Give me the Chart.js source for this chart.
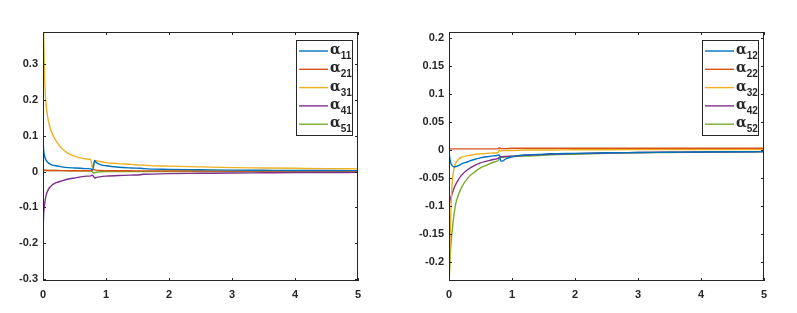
<!DOCTYPE html>
<html>
<head>
<meta charset="utf-8">
<script src="https://cdn.jsdelivr.net/npm/chart.js@4.4.1/dist/chart.umd.min.js"></script>
<style>
html,body{margin:0;padding:0;background:#fff;}
#wrap{position:relative;width:797px;height:313px;}
canvas{position:absolute;top:0;}
</style>
</head>
<body>
<div id="wrap">
<canvas id="c1" width="398" height="313" style="left:0px"></canvas>
<canvas id="c2" width="399" height="313" style="left:398px"></canvas>
</div>
<script>
// ---------- data ----------
const xValues = [0,0.005,0.01,0.02,0.03,0.05,0.075,0.1,0.15,0.2,0.3,0.4,0.5,0.6,0.7,0.76,0.78,0.8,0.82,0.84,0.9,1.0,1.2,1.4,1.55,1.58,1.6,2,2.5,3,3.5,4,4.5,5];

const a11 = [0.097,0.075,0.06,0.047,0.04,0.031,0.026,0.022,0.018,0.016,0.013,0.011,0.01,0.009,0.008,0.0075,0.005,0.012,0.031,0.026,0.02,0.016,0.012,0.01,0.009,0.0085,0.008,0.006,0.005,0.004,0.0035,0.003,0.0028,0.0025];
const a21 = [0.004,0.004,0.004,0.0035,0.0035,0.003,0.003,0.003,0.003,0.0028,0.0025,0.0023,0.0022,0.002,0.002,0.002,0.003,0.006,0.005,0.004,0.003,0.0025,0.002,0.002,0.0018,0.0018,0.0017,0.0015,0.0013,0.0012,0.0011,0.001,0.001,0.001];
const a31 = [0.55,0.45,0.39,0.3,0.24,0.185,0.152,0.13,0.104,0.088,0.064,0.051,0.043,0.038,0.035,0.033,0.012,0.02,0.031,0.03,0.028,0.025,0.022,0.02,0.018,0.019,0.018,0.015,0.013,0.011,0.01,0.009,0.008,0.0075];
const a41 = [-0.2,-0.15,-0.12,-0.1,-0.085,-0.066,-0.054,-0.046,-0.037,-0.032,-0.026,-0.021,-0.018,-0.015,-0.013,-0.012,-0.01,-0.013,-0.018,-0.017,-0.015,-0.013,-0.011,-0.01,-0.009,-0.0075,-0.0075,-0.006,-0.005,-0.004,-0.0035,-0.003,-0.0028,-0.0025];
const a51 = [0.004,0.004,0.004,0.0035,0.0035,0.003,0.003,0.003,0.003,0.0028,0.0025,0.0023,0.002,0.002,0.002,0.002,0.0,-0.004,-0.003,-0.002,-0.001,0,0,0,0,0,0,0,0,0,0,0,0,0];

const a12 = [0,-0.007,-0.012,-0.019,-0.024,-0.028,-0.03,-0.03,-0.028,-0.025,-0.021,-0.017,-0.014,-0.012,-0.0105,-0.0098,-0.009,-0.009,-0.019,-0.02,-0.016,-0.012,-0.009,-0.008,-0.0072,-0.0068,-0.0067,-0.006,-0.005,-0.0045,-0.004,-0.0035,-0.0032,-0.003];
const a22 = [0.002,0.002,0.002,0.002,0.002,0.002,0.002,0.002,0.002,0.002,0.002,0.002,0.002,0.002,0.002,0.002,0.0025,0.004,0.003,0.0025,0.0025,0.003,0.003,0.003,0.003,0.003,0.003,0.003,0.003,0.003,0.003,0.003,0.003,0.003];
const a32 = [-0.25,-0.22,-0.2,-0.15,-0.11,-0.06,-0.035,-0.025,-0.017,-0.013,-0.01,-0.008,-0.007,-0.006,-0.0055,-0.005,-0.004,0.0,-0.002,-0.001,-0.001,-0.001,0,0,0,0,0,0.0005,0.0005,0.0008,0.001,0.001,0.001,0.001];
const a42 = [-0.1,-0.097,-0.094,-0.089,-0.084,-0.078,-0.07,-0.063,-0.053,-0.045,-0.035,-0.028,-0.023,-0.02,-0.017,-0.016,-0.015,-0.013,-0.012,-0.012,-0.0115,-0.011,-0.0095,-0.0085,-0.008,-0.0078,-0.0077,-0.0065,-0.0055,-0.0045,-0.004,-0.0035,-0.0032,-0.003];
const a52 = [-0.25,-0.23,-0.215,-0.19,-0.17,-0.145,-0.12,-0.1,-0.08,-0.067,-0.05,-0.04,-0.032,-0.027,-0.022,-0.02,-0.019,-0.015,-0.013,-0.013,-0.0125,-0.012,-0.011,-0.01,-0.0092,-0.009,-0.0088,-0.0075,-0.006,-0.005,-0.0045,-0.004,-0.0035,-0.003];

const labelsLeft = ['α11','α21','α31','α41','α51'];
const labelsRight = ['α12','α22','α32','α42','α52'];

const xTicks = [0,1,2,3,4,5];
const xTickLabels = ['0','1','2','3','4','5'];
const yTicksLeft = [-0.3,-0.2,-0.1,0,0.1,0.2,0.3];
const yTickLabelsLeft = ['-0.3','-0.2','-0.1','0','0.1','0.2','0.3'];
const yTicksRight = [-0.2,-0.15,-0.1,-0.05,0,0.05,0.1,0.15,0.2];
const yTickLabelsRight = ['-0.2','-0.15','-0.1','-0.05','0','0.05','0.1','0.15','0.2'];

// ---------- styling ----------
const colors = ['#0072BD','#D95319','#EDB120','#7E2F8E','#77AC30'];
const axisColor = '#262626';
const tickFont = {family:'"Liberation Sans", Arial, sans-serif', size:11, weight:'bold'};

function pts(ys){ return xValues.map((x,i)=>({x:x,y:ys[i]})); }

const boxPlugin = {
  id:'boxTicks',
  afterDraw(chart){
    const {ctx, chartArea:a, scales} = chart;
    ctx.save();
    ctx.strokeStyle = axisColor;
    ctx.lineWidth = 1;
    ctx.strokeRect(a.left+0.5, a.top+0.5, a.right-a.left-1, a.bottom-a.top-1);
    const tl = 3;
    ctx.beginPath();
    scales.x.ticks.forEach(t=>{
      const px = Math.round(scales.x.getPixelForValue(t.value))+0.5;
      ctx.moveTo(px, a.bottom); ctx.lineTo(px, a.bottom-tl);
      ctx.moveTo(px, a.top); ctx.lineTo(px, a.top+tl);
    });
    scales.y.ticks.forEach(t=>{
      const py = Math.round(scales.y.getPixelForValue(t.value))+0.5;
      ctx.moveTo(a.left, py); ctx.lineTo(a.left+tl, py);
      ctx.moveTo(a.right, py); ctx.lineTo(a.right-tl, py);
    });
    ctx.stroke();
    // legend
    const ds = chart.data.datasets;
    const w = 56, h = 95;
    const bx = a.right - 6 - w, by = a.top + 8;
    ctx.fillStyle = '#fff';
    ctx.fillRect(bx, by, w, h);
    ctx.strokeRect(bx+0.5, by+0.5, w, h);
    ds.forEach((d,i)=>{
      const y = by + 11 + i*18.3;
      ctx.strokeStyle = d.borderColor;
      ctx.lineWidth = 1.4;
      ctx.beginPath();
      ctx.moveTo(bx+3, y); ctx.lineTo(bx+32, y);
      ctx.stroke();
      ctx.fillStyle = axisColor;
      ctx.textBaseline = 'alphabetic';
      ctx.textAlign = 'left';
      ctx.font = 'bold 14px "DejaVu Serif", serif';
      const g = d.label.charAt(0), sub = d.label.slice(1);
      ctx.fillText(g, bx+34, y+3);
      const gw = ctx.measureText(g).width;
      ctx.font = 'bold 10px "Liberation Sans", Arial, sans-serif';
      ctx.fillText(sub, bx+34+gw, y+8);
    });
    ctx.restore();
  }
};

function makeChart(id, series, labels, yMin, yMax, yTicks, yLabels, yAxisWidth, rightPad){
  return new Chart(document.getElementById(id), {
    type:'line',
    data:{ datasets: series.map((s,i)=>({
      label: labels[i], data: pts(s), borderColor: colors[i], backgroundColor: colors[i],
      borderWidth: 1.4, pointRadius: 0, fill: false, cubicInterpolationMode: 'monotone', clip: 0
    }))},
    options:{
      responsive:false, animation:false, devicePixelRatio:1,
      layout:{padding:{left:0, top:32, right:rightPad, bottom:0}},
      plugins:{legend:{display:false}, tooltip:{enabled:false}},
      scales:{
        x:{ type:'linear', min:0, max:5,
          afterBuildTicks: sc => { sc.ticks = xTicks.map(v=>({value:v})); },
          afterFit: sc => { sc.height = 32; },
          grid:{display:false, drawTicks:false}, border:{display:false},
          ticks:{ padding:7, color:axisColor, font:tickFont, maxRotation:0, autoSkip:false,
            callback:(v,i)=>xTickLabels[i] }
        },
        y:{ type:'linear', min:yMin, max:yMax,
          afterBuildTicks: sc => { sc.ticks = yTicks.map(v=>({value:v})); },
          afterFit: sc => { sc.width = yAxisWidth; },
          grid:{display:false, drawTicks:false}, border:{display:false},
          ticks:{ padding:5, color:axisColor, font:tickFont, autoSkip:false,
            callback:(v,i)=>yLabels[i] }
        }
      }
    },
    plugins:[boxPlugin]
  });
}

makeChart('c1', [a11,a21,a31,a41,a51], labelsLeft, -0.306, 0.39, yTicksLeft, yTickLabelsLeft, 43, 40);
makeChart('c2', [a12,a22,a32,a42,a52], labelsRight, -0.2346, 0.2113, yTicksRight, yTickLabelsRight, 51, 33);
</script>
</body>
</html>
